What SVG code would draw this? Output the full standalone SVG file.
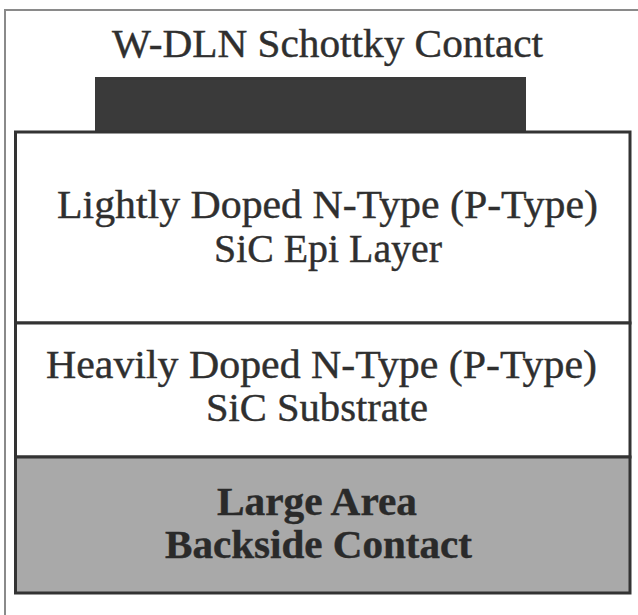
<svg xmlns="http://www.w3.org/2000/svg" width="638" height="615" viewBox="0 0 638 615">
<style>
.lbl{font-family:"Liberation Serif","Times New Roman",serif;fill:#2f2f2f;font-size:39px;stroke:#2f2f2f;stroke-width:0.4}
.bold{font-weight:bold;fill:#2a2a2a;stroke:#2a2a2a}
.layer{stroke:#333;stroke-width:3}
.frame{stroke:#8a8a8a;stroke-width:2;fill:none}
</style>
<rect width="638" height="615" fill="#fff"/>
<path class="frame" d="M5,615 V10 H638"/>
<g id="schottky-contact">
<rect x="95" y="77" width="431" height="56" fill="#3a3a3a"/>
<text class="lbl" x="112" y="57" font-size="40" textLength="431" lengthAdjust="spacingAndGlyphs">W-DLN Schottky Contact</text>
</g>
<g id="epi-layer">
<rect class="layer" x="15.5" y="132" width="614.5" height="191" fill="#fff"/>
<text class="lbl" x="57" y="218" textLength="541" lengthAdjust="spacingAndGlyphs">Lightly Doped N-Type (P-Type)</text>
<text class="lbl" x="214" y="262" textLength="228" lengthAdjust="spacingAndGlyphs">SiC Epi Layer</text>
</g>
<g id="substrate">
<rect class="layer" x="15.5" y="323" width="614.5" height="134" fill="#fff"/>
<text class="lbl" x="46" y="378" textLength="551" lengthAdjust="spacingAndGlyphs">Heavily Doped N-Type (P-Type)</text>
<text class="lbl" x="206" y="421" textLength="222" lengthAdjust="spacingAndGlyphs">SiC Substrate</text>
</g>
<g id="backside-contact">
<rect class="layer" x="15.5" y="457" width="614.5" height="136" fill="#a9a9a9"/>
<text class="lbl bold" x="217" y="515" textLength="200" lengthAdjust="spacingAndGlyphs">Large Area</text>
<text class="lbl bold" x="165" y="558" textLength="307" lengthAdjust="spacingAndGlyphs">Backside Contact</text>
</g>
<g id="connectors"></g>
</svg>
